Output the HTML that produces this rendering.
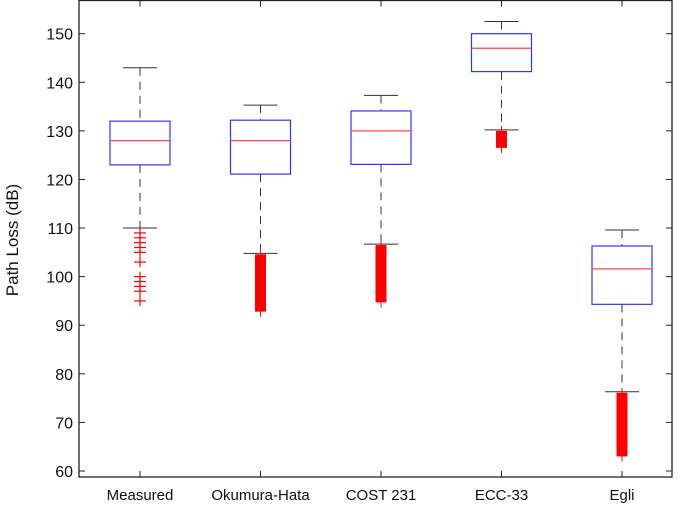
<!DOCTYPE html>
<html><head><meta charset="utf-8"><style>
html,body{margin:0;padding:0;background:#fff}
svg{display:block;font-family:"Liberation Sans",Arial,sans-serif}
</style></head><body>
<svg id="chart" width="683" height="505"></svg>
<script>
const categories=["Measured","Okumura-Hata","COST 231","ECC-33","Egli"];
const upperWhisker=[143,135.3,137.3,152.5,109.6];
const q3=[132,132.2,134.1,150,106.3];
const medians=[128,128,130,147,101.6];
const q1=[123,121.1,123.1,142.2,94.3];
const lowerWhisker=[110,104.8,106.7,130.2,76.3];
const outlierMin=[null,92.8,94.7,126.5,63];
const outlierMax=[null,104.6,106.5,130,76.1];
const measuredOutliers=[109,108,107,106,105,103,100,99,98,97,95];
const yTicks=[60,70,80,90,100,110,120,130,140,150];

const NS="http://www.w3.org/2000/svg";
const svg=document.getElementById("chart");
const L=79,R=672,T=0.5,B=477;
function y(v){return 471-(v-60)*4.859;}
function x(i){return 140+i*120.5;}
function mk(tag,attrs,parent){const e=document.createElementNS(NS,tag);for(const k in attrs)e.setAttribute(k,attrs[k]);(parent||svg).appendChild(e);return e;}

const frame=mk("rect",{x:L,y:T,width:R-L,height:B-T,fill:"none",stroke:"#222","stroke-width":1.3});



yTicks.forEach(v=>{
  const g=mk("g",{});
  
  
  mk("line",{x1:L,x2:L+6,y1:y(v),y2:y(v),stroke:"#222"},g);
  mk("line",{x1:R-6,x2:R,y1:y(v),y2:y(v),stroke:"#222"},g);
  const t=mk("text",{x:L-6,y:y(v)+6,"text-anchor":"end","font-size":16,fill:"#111"},g);
  t.textContent=v;
});
const yl=mk("text",{x:0,y:0,transform:"translate(18,240) rotate(-90)","text-anchor":"middle","font-size":17,fill:"#111"});
yl.textContent="Path Loss (dB)";



categories.forEach((c,i)=>{
  const cx=x(i);
  const g=mk("g",{});
  
  
  mk("line",{x1:cx,x2:cx,y1:B,y2:B-6,stroke:"#222"},g);
  mk("line",{x1:cx,x2:cx,y1:T,y2:T+6,stroke:"#222"},g);
  const t=mk("text",{x:cx,y:500,"text-anchor":"middle","font-size":15,fill:"#111"},g);
  t.textContent=c;
  const dash={stroke:"#333","stroke-width":1,"stroke-dasharray":"8,6"};
  mk("line",Object.assign({x1:cx,x2:cx,y1:y(upperWhisker[i]),y2:y(q3[i])},dash),g);
  mk("line",Object.assign({x1:cx,x2:cx,y1:y(q1[i]),y2:y(lowerWhisker[i])},dash),g);
  mk("line",{x1:cx-17,x2:cx+17,y1:y(upperWhisker[i]),y2:y(upperWhisker[i]),stroke:"#333"},g);
  mk("line",{x1:cx-17,x2:cx+17,y1:y(lowerWhisker[i]),y2:y(lowerWhisker[i]),stroke:"#333"},g);
  if(outlierMin[i]!==null){
    mk("rect",{x:cx-5.5,y:y(outlierMax[i]),width:11,height:y(outlierMin[i])-y(outlierMax[i]),fill:"#f00"},g);
    mk("line",{x1:cx,x2:cx,y1:y(outlierMax[i])-5,y2:y(outlierMin[i])+5,stroke:"#f00"},g);
  }
  mk("rect",{x:cx-30,y:y(q3[i]),width:60,height:y(q1[i])-y(q3[i]),fill:"none",stroke:"#33f","stroke-width":1.2},g);
  mk("line",{x1:cx-30,x2:cx+30,y1:y(medians[i]),y2:y(medians[i]),stroke:"#f44","stroke-width":1.2},g);
});
measuredOutliers.forEach(v=>{
  const cx=x(0);
  const g=mk("g",{stroke:"#f00","stroke-width":1.2});
  
  
  mk("line",{x1:cx-6,x2:cx+6,y1:y(v),y2:y(v)},g);
  mk("line",{x1:cx,x2:cx,y1:y(v)-5,y2:y(v)+5},g);
});
</script>
</body></html>
